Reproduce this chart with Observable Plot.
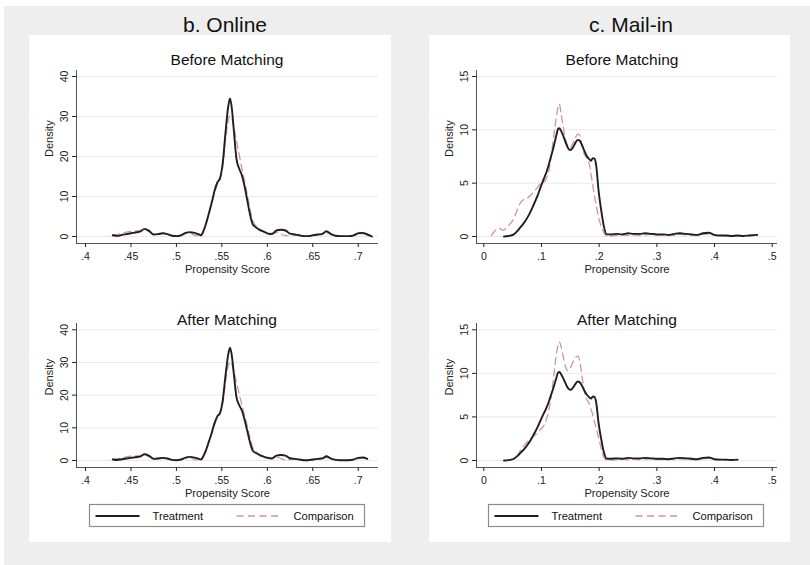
<!DOCTYPE html>
<html><head><meta charset="utf-8">
<script src="https://cdn.jsdelivr.net/npm/d3@7"></script>
<script src="https://cdn.jsdelivr.net/npm/@observablehq/plot@0.6"></script>
<style>
html,body{margin:0;padding:0;background:#fff;}
#root{position:relative;width:810px;height:565px;overflow:hidden;font-family:"Liberation Sans",Arial,Helvetica,sans-serif;}
.abs{position:absolute;}
</style></head><body><div id="root"></div>
<script>
// ---------- data ----------
const panelTitles = ["b. Online", "c. Mail-in"];
const matchTitles = ["Before Matching", "After Matching"];
const seriesNames = ["Treatment", "Comparison"];
const xAxisTitle = "Propensity Score";
const yAxisTitle = "Density";

const onlineXTicks = [0.4, 0.45, 0.5, 0.55, 0.6, 0.65, 0.7];
const onlineXTickLabels = [".4", ".45", ".5", ".55", ".6", ".65", ".7"];
const onlineYTicks = [0, 10, 20, 30, 40];
const mailXTicks = [0, 0.1, 0.2, 0.3, 0.4, 0.5];
const mailXTickLabels = ["0", ".1", ".2", ".3", ".4", ".5"];
const mailYTicks = [0, 5, 10, 15];

const onlineX = [0.430,0.435,0.440,0.445,0.450,0.455,0.460,0.465,0.470,0.475,
  0.480,0.485,0.490,0.495,0.500,0.505,0.510,0.515,0.520,0.525,
  0.527,0.530,0.533,0.536,0.539,0.542,0.545,0.548,0.551,0.554,
  0.557,0.559,0.561,0.563,0.566,0.569,0.572,0.575,0.578,0.581,
  0.584,0.588,0.592,0.596,0.600,0.605,0.610,0.615,0.620,0.625,
  0.630,0.635,0.640,0.645,0.650,0.655,0.660,0.665,0.670,0.675,
  0.680,0.685,0.690,0.695,0.700,0.705,0.710,0.715];
const onlineTreatY = [0.3,0.15,0.4,0.6,0.8,1.0,1.2,1.9,1.4,0.5,
  0.6,0.8,0.6,0.2,0.1,0.3,0.9,1.1,0.9,0.5,
  0.3,1.5,3.5,6.0,8.6,11.5,13.5,14.6,18.5,26,
  32.5,34.5,32,27,19.5,17,15.3,12.5,9.0,5.5,
  3.0,2.2,1.6,1.2,0.8,0.6,1.5,1.7,1.5,0.7,
  0.5,0.3,0.1,0.1,0.3,0.5,0.6,1.3,0.6,0.2,
  0.1,0.1,0.1,0.3,0.8,0.9,0.5,0.0];
const onlineCompY = [0.4,0.5,0.8,1.1,1.3,1.4,1.5,1.7,1.2,0.6,
  0.7,0.8,0.6,0.3,0.2,0.3,0.7,0.9,0.3,0.2,
  0.4,1.8,3.8,6.2,8.5,11.0,13.0,14.5,17.5,24,
  29,30.2,29.5,27.5,24,20.5,17,13.8,10.5,6.8,
  4.0,2.5,1.8,1.3,1.0,0.8,1.0,0.6,0.2,0.3,
  0.5,0.4,0.2,0.1,0.2,0.4,0.6,0.9,0.6,0.3,
  0.1,0.1,0.2,0.3,0.6,0.7,0.4,0.1];
const onlineAfterMax = 0.71;

const mailX = [0.013,0.018,0.023,0.028,0.032,0.035,0.040,0.046,0.052,0.058,
  0.064,0.070,0.078,0.085,0.093,0.099,0.104,0.109,0.113,0.117,
  0.121,0.125,0.129,0.131,0.134,0.138,0.142,0.146,0.150,0.154,
  0.159,0.163,0.166,0.170,0.173,0.178,0.182,0.186,0.189,0.192,
  0.195,0.199,0.204,0.208,0.213,0.220,0.230,0.240,0.250,0.260,
  0.270,0.280,0.290,0.300,0.310,0.320,0.330,0.340,0.350,0.360,
  0.370,0.380,0.390,0.400,0.410,0.420,0.430,0.440,0.450,0.460,
  0.474];
const mailTreatY = [null,null,null,null,null,0.0,0.02,0.08,0.2,0.5,
  0.9,1.3,2.0,2.8,3.8,4.7,5.4,6.1,6.8,7.6,
  8.4,9.3,10.1,10.15,9.9,9.4,8.8,8.3,8.1,8.3,
  8.8,9.06,9.0,8.6,8.2,7.6,7.3,7.1,7.35,7.3,
  6.6,4.3,2.3,1.0,0.2,0.2,0.25,0.2,0.3,0.25,
  0.25,0.3,0.25,0.2,0.2,0.15,0.25,0.3,0.25,0.2,
  0.15,0.3,0.35,0.15,0.1,0.1,0.05,0.1,0.05,0.1,
  0.15];
const mailCompBeforeY = [0.1,0.45,0.7,0.75,0.6,0.6,0.9,1.2,1.7,2.5,
  3.2,3.5,3.7,4.1,4.6,5.0,5.1,5.5,6.2,7.6,
  9.3,10.9,12.2,12.4,11.5,10.2,9.0,8.5,8.3,8.7,
  9.3,9.6,9.5,8.6,7.9,7.4,7.0,5.8,4.8,3.8,
  2.9,1.8,0.9,0.4,0.05,0.05,0.1,0.15,0.1,0.15,
  0.1,0.15,0.2,0.1,0.1,0.15,0.1,0.2,0.15,0.1,
  0.1,0.2,0.25,0.1,0.05,0.05,0.05,0.05,0.05,0.05,
  0.1];
const mailCompAfterY = [null,null,null,null,null,null,0.0,0.05,0.15,0.5,
  1.2,1.7,2.3,2.7,3.2,3.6,4.0,4.8,5.8,7.5,
  9.5,11.8,13.3,13.6,13.1,11.8,10.7,10.3,10.6,11.2,
  11.8,12.0,11.5,9.8,8.4,7.1,6.6,5.9,5.2,4.4,
  3.7,2.6,1.3,0.4,0.05,0.05,0.1,0.15,0.1,0.15,
  0.1,0.15,0.2,0.1,0.1,0.15,0.1,0.2,0.15,0.1,
  0.1,0.2,0.25,0.1,0.05,0.05,0.05,0.05,null,null,
  null];
const mailAfterMax = 0.44;

// ---------- styling ----------
const FONT = '"Liberation Sans", Arial, Helvetica, sans-serif';
const TREAT_COLOR = "#1f1f1f";
const COMP_COLOR = "#d2939c";
const AXIS_COLOR = "#555";
const GRID_COLOR = "#e9e9e9";

function rows(xs, ys, maxX = Infinity) {
  return xs.map((x, i) => ({x, y: ys[i]})).filter(d => d.y != null && d.x <= maxX);
}

function densityPanel(o) {
  const fmt = d => o.xTickLabels[o.xTicks.indexOf(d)];
  return Plot.plot({
    width: o.width, height: o.height,
    marginLeft: o.ml, marginRight: o.mr, marginTop: o.mt, marginBottom: o.mb,
    style: {background: "transparent", fontFamily: FONT, fontSize: "10.5px", color: "#222", overflow: "visible"},
    x: {domain: o.xDomain},
    y: {domain: o.yDomain},
    marks: [
      Plot.ruleY(o.yTicks, {stroke: GRID_COLOR, strokeWidth: 1}),
      Plot.line(o.comp, {x: "x", y: "y", stroke: COMP_COLOR, strokeWidth: 1.3, strokeDasharray: "7,4.5", curve: "monotone-x"}),
      Plot.line(o.treat, {x: "x", y: "y", stroke: TREAT_COLOR, strokeWidth: 1.9, curve: "monotone-x"}),
      Plot.ruleX([o.xDomain[0]], {stroke: AXIS_COLOR}),
      Plot.ruleY([o.yDomain[0]], {stroke: AXIS_COLOR}),
      Plot.axisX(o.xTicks, {tickSize: 4, tickFormat: fmt, label: null, fontSize: 10.5}),
      Plot.axisY(o.yTicks, {tickSize: 4, tickRotate: -90, label: null, fontSize: 10.5}),
      Plot.text([xAxisTitle], {text: d => d, frameAnchor: "bottom", dy: 25.5, fontSize: 11.2, lineAnchor: "middle"}),
      Plot.text([yAxisTitle], {text: d => d, frameAnchor: "left", dx: -27, rotate: -90, fontSize: 11, lineAnchor: "middle"})
    ]
  });
}

const root = document.getElementById("root");
function place(el, left, top) {
  el.classList.add("abs");
  el.style.left = left + "px";
  el.style.top = top + "px";
  root.appendChild(el);
}

// background
const bg = document.createElement("div");
bg.style.cssText = "width:806px;height:559px;background:#eeeeee;";
place(bg, 4, 6);
for (const [l, w] of [[29, 362], [429, 361]]) {
  const p = document.createElement("div");
  p.style.cssText = `width:${w}px;height:507px;background:#fff;`;
  place(p, l, 35);
}

const onlineXDomain = [0.3901, 0.7223];
const mailXDomain = [-0.01266, 0.5092];

const panels = [
  {left: 30, top: 64, width: 360, height: 212, ml: 46, mr: 12, mt: 6, mb: 33,
   xDomain: onlineXDomain, yDomain: [-1.75, 41.5], xTicks: onlineXTicks, xTickLabels: onlineXTickLabels, yTicks: onlineYTicks,
   treat: rows(onlineX, onlineTreatY), comp: rows(onlineX, onlineCompY)},
  {left: 430, top: 64, width: 356, height: 212, ml: 46, mr: 9, mt: 6, mb: 33,
   xDomain: mailXDomain, yDomain: [-0.65625, 15.5625], xTicks: mailXTicks, xTickLabels: mailXTickLabels, yTicks: mailYTicks,
   treat: rows(mailX, mailTreatY), comp: rows(mailX, mailCompBeforeY)},
  {left: 30, top: 317, width: 360, height: 183, ml: 46, mr: 12, mt: 6, mb: 33,
   xDomain: onlineXDomain, yDomain: [-2.142, 41.93], xTicks: onlineXTicks, xTickLabels: onlineXTickLabels, yTicks: onlineYTicks,
   treat: rows(onlineX, onlineTreatY, onlineAfterMax), comp: rows(onlineX, onlineCompY, onlineAfterMax)},
  {left: 430, top: 317, width: 356, height: 183, ml: 46, mr: 9, mt: 6, mb: 33,
   xDomain: mailXDomain, yDomain: [-0.803, 15.723], xTicks: mailXTicks, xTickLabels: mailXTickLabels, yTicks: mailYTicks,
   treat: rows(mailX, mailTreatY, mailAfterMax), comp: rows(mailX, mailCompAfterY, mailAfterMax)}
];
for (const p of panels) place(densityPanel(p), p.left, p.top);

// overlay: titles and legends
const NS = "http://www.w3.org/2000/svg";
const ov = document.createElementNS(NS, "svg");
ov.setAttribute("width", 810); ov.setAttribute("height", 565);
ov.style.pointerEvents = "none";
ov.style.fontFamily = FONT;
place(ov, 0, 0);
function txt(s, x, y, size, anchor = "middle") {
  const t = document.createElementNS(NS, "text");
  t.setAttribute("x", x); t.setAttribute("y", y);
  t.setAttribute("font-size", size); t.setAttribute("text-anchor", anchor);
  t.setAttribute("fill", "#111");
  t.textContent = s; ov.appendChild(t);
}
function el(name, attrs) {
  const e = document.createElementNS(NS, name);
  for (const k in attrs) e.setAttribute(k, attrs[k]);
  ov.appendChild(e);
}
txt(panelTitles[0], 225, 31.5, 21);
txt(panelTitles[1], 631, 31.5, 21);
txt(matchTitles[0], 227, 65, 15.5);
txt(matchTitles[0], 622, 65, 15.5);
txt(matchTitles[1], 227, 324.5, 15.5);
txt(matchTitles[1], 627, 324.5, 15.5);

for (const bx of [89.5, 488.5]) {
  el("rect", {x: bx, y: 504.5, width: 275, height: 22, fill: "#fff", stroke: "#8c8c8c", "stroke-width": 1.2});
  el("line", {x1: bx + 6, x2: bx + 50, y1: 516, y2: 516, stroke: TREAT_COLOR, "stroke-width": 1.9});
  txt(seriesNames[0], bx + 63, 520, 11.2, "start");
  el("line", {x1: bx + 147, x2: bx + 192, y1: 516, y2: 516, stroke: COMP_COLOR, "stroke-width": 1.3, "stroke-dasharray": "7,4.5"});
  txt(seriesNames[1], bx + 204, 520, 11.2, "start");
}
</script></body></html>
